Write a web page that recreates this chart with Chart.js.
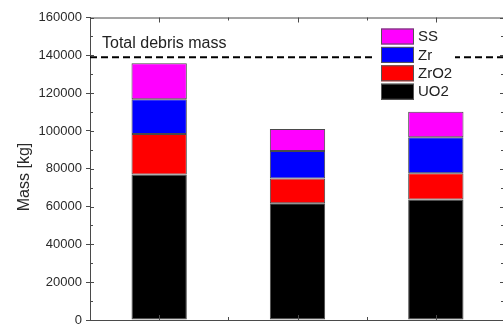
<!DOCTYPE html>
<html>
<head>
<meta charset="utf-8">
<script src="https://cdn.jsdelivr.net/npm/chart.js@4.4.1/dist/chart.umd.min.js"></script>
<style>
  html, body { margin: 0; padding: 0; background: #ffffff; overflow: hidden; }
  #wrap { position: relative; width: 506px; height: 326px; }
  canvas { display: block; }
</style>
</head>
<body>
<div id="wrap"><canvas id="c" width="506" height="326"></canvas></div>
<script>
// Debris composition per case (kg), stacked bottom to top: UO2, ZrO2, Zr, SS
const categories = ['Case 1', 'Case 2', 'Case 3'];
const uo2  = [77000, 61700, 63800];
const zro2 = [21400, 13200, 13800];
const zr   = [18300, 14500, 19000];
const ss   = [19100, 11600, 13600];
const totalDebrisMass = 139000;
const yTicks = [0, 20000, 40000, 60000, 80000, 100000, 120000, 140000, 160000];
const yTitle = 'Mass [kg]';

const FONT = '"Liberation Sans", Arial, sans-serif';
const AXIS = '#4a4a4a';

// Frame, inner ticks, axis title, reference line and legend box
const decorations = {
  id: 'decorations',
  afterDatasetsDraw(chart) {
    const { ctx, chartArea: a, scales } = chart;
    const y = scales.y, x = scales.x;
    ctx.save();
    ctx.strokeStyle = AXIS;
    ctx.lineWidth = 1;
    // top and right spines
    ctx.beginPath();
    ctx.moveTo(a.left, a.top + 0.5); ctx.lineTo(a.right, a.top + 0.5);
    ctx.moveTo(a.right - 0.5, a.top); ctx.lineTo(a.right - 0.5, a.bottom);
    ctx.stroke();
    // y ticks: major every 20000, minor in between, on both sides
    ctx.beginPath();
    for (let v = 0; v <= 160000; v += 10000) {
      const py = Math.round(y.getPixelForValue(v)) + 0.5;
      const len = (v % 20000 === 0) ? 4 : 3;
      ctx.moveTo(a.left, py); ctx.lineTo(a.left + len, py);
      ctx.moveTo(a.right, py); ctx.lineTo(a.right - len - 1, py);
    }
    // x ticks at category centres and boundaries
    for (let i = 0; i < categories.length; i++) {
      const cx = Math.round(x.getPixelForValue(i)) + 0.5;
      ctx.moveTo(cx, a.top); ctx.lineTo(cx, a.top + 5);
      ctx.moveTo(cx, a.bottom); ctx.lineTo(cx, a.bottom - 5);
      if (i > 0) {
        const bx = Math.round((x.getPixelForValue(i - 1) + x.getPixelForValue(i)) / 2) + 0.5;
        ctx.moveTo(bx, a.top); ctx.lineTo(bx, a.top + 3);
        ctx.moveTo(bx, a.bottom); ctx.lineTo(bx, a.bottom - 3);
      }
    }
    ctx.stroke();

    // y axis title
    ctx.save();
    ctx.translate(25, 177);
    ctx.rotate(-Math.PI / 2);
    ctx.fillStyle = '#2a2a2a';
    ctx.font = '16px ' + FONT;
    ctx.textAlign = 'center';
    ctx.textBaseline = 'middle';
    ctx.fillText(yTitle, 0, 0);
    ctx.restore();

    // total debris mass reference line
    const ty = y.getPixelForValue(totalDebrisMass);
    ctx.strokeStyle = '#000';
    ctx.lineWidth = 2;
    ctx.setLineDash([7, 4]);
    ctx.beginPath();
    ctx.moveTo(a.left, ty); ctx.lineTo(a.right, ty);
    ctx.stroke();
    ctx.setLineDash([]);
    ctx.fillStyle = '#222';
    ctx.font = '16px ' + FONT;
    ctx.textAlign = 'left';
    ctx.textBaseline = 'alphabetic';
    ctx.fillText('Total debris mass', a.left + 12, ty - 9.5);

    // legend (top entry = top of stack)
    const lx = 373, ly = 26;
    ctx.fillStyle = '#ffffff';
    ctx.fillRect(lx, ly, 82, 77);
    const order = chart.data.datasets.slice().reverse();
    ctx.font = '15px ' + FONT;
    ctx.textBaseline = 'middle';
    order.forEach((ds, i) => {
      const by = 28.5 + i * 18.4;
      ctx.fillStyle = ds.backgroundColor;
      ctx.fillRect(381, by, 33, 16);
      ctx.strokeStyle = '#555';
      ctx.lineWidth = 1;
      ctx.strokeRect(381.5, by + 0.5, 32, 15);
      ctx.fillStyle = '#222';
      ctx.fillText(ds.label, 418, by + 8.5);
    });
    ctx.restore();
  }
};

new Chart(document.getElementById('c'), {
  type: 'bar',
  data: {
    labels: categories,
    datasets: [
      { label: 'UO2',  data: uo2,  backgroundColor: '#000000' },
      { label: 'ZrO2', data: zro2, backgroundColor: '#ff0000' },
      { label: 'Zr',   data: zr,   backgroundColor: '#0000ff' },
      { label: 'SS',   data: ss,   backgroundColor: '#ff00ff' }
    ].map(d => Object.assign(d, {
      borderColor: '#4a4a4a', borderWidth: 1, borderSkipped: false,
      categoryPercentage: 1.0, barPercentage: 0.4
    }))
  },
  options: {
    responsive: false,
    animation: false,
    devicePixelRatio: 1,
    layout: { padding: { top: 17.5, right: 1, left: 0, bottom: 0 } },
    plugins: { legend: { display: false }, tooltip: { enabled: false } },
    scales: {
      x: {
        stacked: true,
        ticks: { display: false },
        grid: { display: false },
        border: { display: true, color: AXIS, width: 1 },
        afterFit(s) { s.height = 6; s.paddingLeft = 0; s.paddingRight = 0; }
      },
      y: {
        stacked: true,
        min: 0, max: 160000,
        afterBuildTicks(s) { s.ticks = yTicks.map(v => ({ value: v })); },
        ticks: {
          font: { family: FONT, size: 13 },
          color: '#2a2a2a',
          padding: 4,
          callback: v => String(v)
        },
        grid: { drawOnChartArea: false, drawTicks: true, tickLength: 4, color: AXIS },
        border: { display: true, color: AXIS, width: 1 },
        afterFit(s) { s.width = 90; s.paddingTop = 0; s.paddingBottom = 0; }
      }
    }
  },
  plugins: [decorations]
});
</script>
</body>
</html>
